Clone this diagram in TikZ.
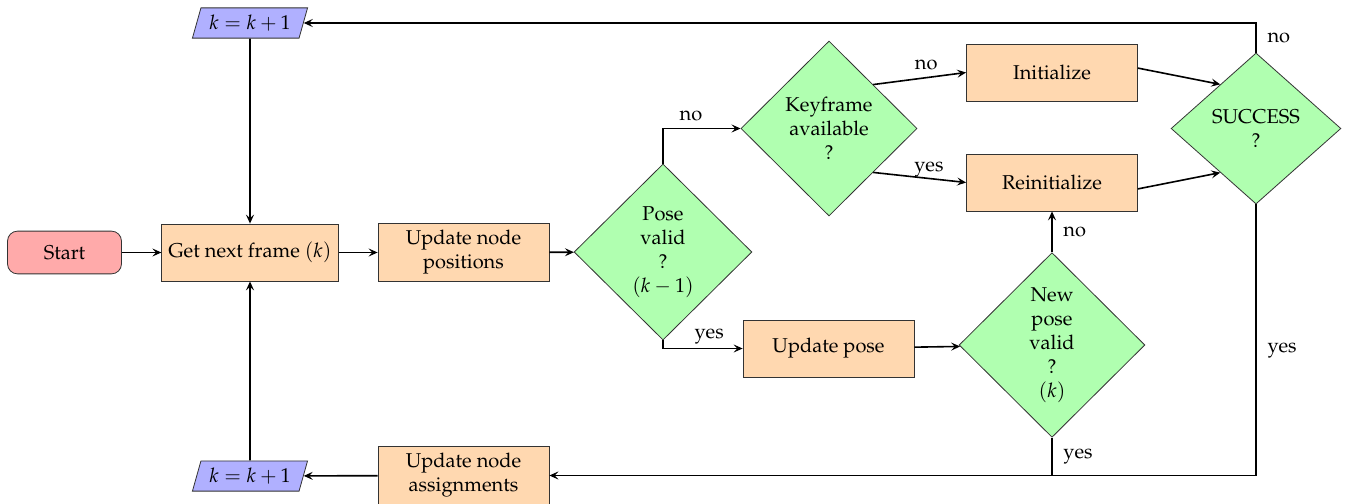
\documentclass[tikz,border=0pt]{standalone}
\usepackage[T1]{fontenc}
\usepackage{mathpazo}
\usetikzlibrary{shapes.geometric,arrows.meta}
\definecolor{startc}{RGB}{255,170,170}
\definecolor{procc}{RGB}{255,216,176}
\definecolor{decc}{RGB}{176,255,176}
\definecolor{ioc}{RGB}{176,176,255}
\tikzset{
  startstop/.style={rectangle, rounded corners=5pt, draw=black!80, fill=startc, minimum width=2cm, minimum height=0.75cm, align=center},
  procbox/.style={rectangle, draw=black!80, fill=procc, minimum width=3cm, minimum height=1cm, align=center},
  decbox/.style={diamond, draw=black!80, fill=decc, aspect=1, inner sep=0pt, align=center},
  iobox/.style={trapezium, trapezium left angle=70, trapezium right angle=110, trapezium stretches=true, draw=black!80, fill=ioc, minimum width=2.03cm, minimum height=0.53cm, inner sep=1pt},
  arr/.style={thick, -{Stealth[length=4.5pt,width=4pt,inset=1.8pt]}},
  ln/.style={thick},
}
\begin{document}
\begin{tikzpicture}[x=0.01754cm, y=-0.01754cm]
\useasboundingbox (0,0) rectangle (1347,504);
\node[startstop] (start) at (64.5,252.5) {Start};
\node[procbox] (get) at (250,252.5) {Get next frame $(k)$};
\node[procbox] (upd) at (463.5,252.5) {Update node\\positions};
\node[decbox, minimum width=3.12cm, minimum height=3.09cm] (pv) at (663,252) {Pose\\valid\\?\\$(k-1)$};
\node[decbox, minimum width=3.09cm, minimum height=3.07cm] (kf) at (829,128.5) {Keyframe\\available\\?};
\node[procbox] (init) at (1052,72.5) {Initialize};
\node[procbox] (reinit) at (1052,182.5) {Reinitialize};
\node[decbox, minimum width=2.98cm, minimum height=2.65cm] (succ) at (1256,128.5) {SUCCESS\\?};
\node[procbox] (up) at (828.5,348.5) {Update pose};
\node[decbox, minimum width=3.26cm, minimum height=3.24cm] (npv) at (1052,345) {New\\pose\\valid\\?\\$(k)$};
\node[procbox] (una) at (463.5,475.5) {Update node\\assignments};
\node[iobox] (ktop) at (250,23) {$k=k+1$};
\node[iobox] (kbot) at (250,476) {$k=k+1$};

\draw[arr] (start) -- (get);
\draw[arr] (get) -- (upd);
\draw[arr] (upd) -- (pv);
\draw[arr] (pv.north) |- node[pos=0.68, above] {no} (kf.west);
\draw[arr] (pv.south) |- node[pos=0.79, above, yshift=-1.5pt] {yes} (up.west);
\draw[arr] (kf.north east) -- node[pos=0.57, above] {no} (init.west);
\draw[arr] (kf.south east) -- node[pos=0.6, above, yshift=-3pt] {yes} (reinit.west);
\draw[arr] ([yshift=2.2pt]init.east) -- (succ.129);
\draw[arr] ([yshift=-3.2pt]reinit.east) -- (succ.231);
\draw[arr] (succ.north) |- node[pos=0.25, right, xshift=2pt] {no} (ktop.east);
\draw[arr] (succ.south) |- node[pos=0.27, right, xshift=2pt] {yes} (una.east);
\draw[arr] (up) -- (npv);
\draw[arr] (npv.north) -- node[right, xshift=2pt] {no} (reinit.south);
\coordinate (join) at (npv.south |- una.east);
\draw[ln] (npv.south) -- node[right, xshift=2pt] {yes} (join);
\draw[arr] (una) -- (kbot);
\draw[arr] (kbot) -- (get);
\draw[arr] (ktop) -- (get);
\end{tikzpicture}
\end{document}
